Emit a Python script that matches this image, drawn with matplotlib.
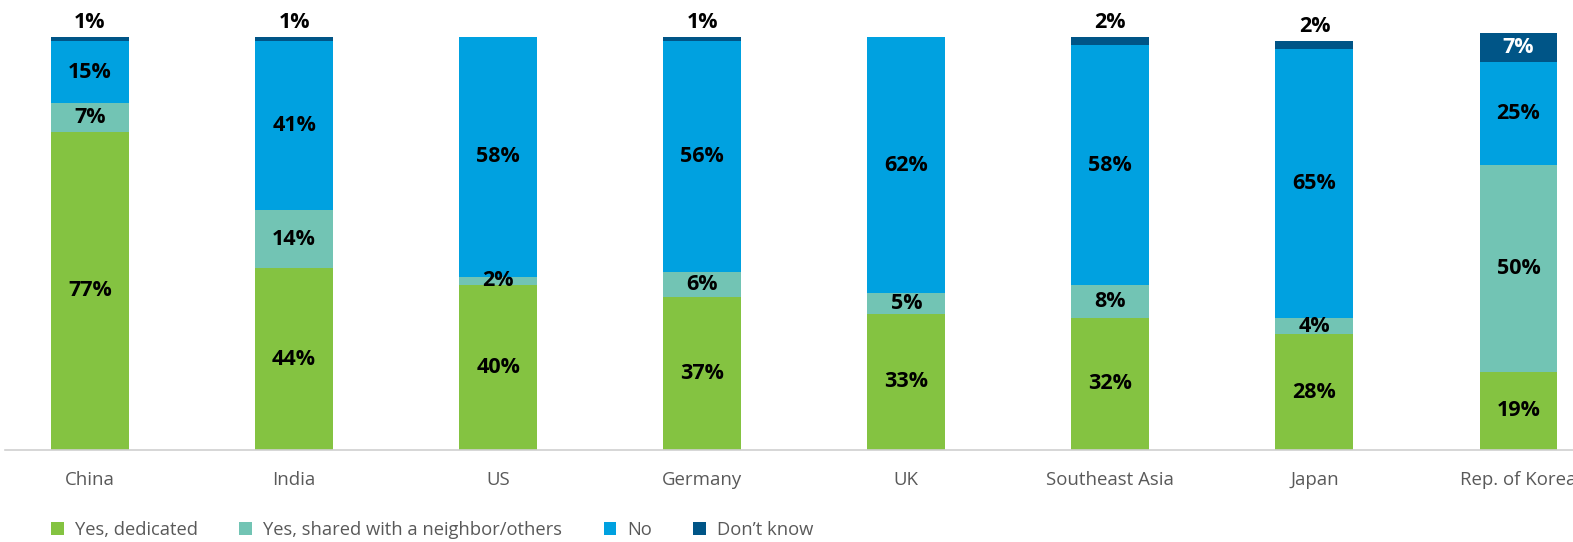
import numpy as np
import matplotlib
matplotlib.use("Agg")
import matplotlib.pyplot as plt
from matplotlib.patches import Patch

plt.rcParams['font.family'] = ['Open Sans', 'DejaVu Sans']

# survey shares per market, in percent
countries = ['China', 'India', 'US', 'Germany', 'UK', 'Southeast Asia', 'Japan', 'Rep. of Korea']
yes_dedicated = [77, 44, 40, 37, 33, 32, 28, 19]
yes_shared = [7, 14, 2, 6, 5, 8, 4, 50]
no = [15, 41, 58, 56, 62, 58, 65, 25]
dont_know = [1, 1, 0, 1, 0, 2, 2, 7]

series = [yes_dedicated, yes_shared, no, dont_know]
names = ['Yes, dedicated', 'Yes, shared with a neighbor/others', 'No', 'Don\u2019t know']
colors = ['#84C341', '#72C4B4', '#00A1E0', '#005587']

fig = plt.figure(figsize=(15.73, 5.42), dpi=100)
ax = fig.add_axes([5 / 1573, 92 / 542, 1 - 5 / 1573, 413 / 542])

x = np.arange(len(countries))
width = 0.382
bottom = np.zeros(len(countries))
lbl = dict(fontsize=15.5, fontweight='bold')

for vals, name, col in zip(series, names, colors):
    vals = np.array(vals, dtype=float)
    ax.bar(x, vals, width, bottom=bottom, color=col, label=name, clip_on=False)
    for i, v in enumerate(vals):
        if v <= 0:
            continue
        mid = bottom[i] + v / 2
        if col == colors[3]:
            # big enough to hold its own label, otherwise put it on top
            if v >= 5:
                ax.text(x[i], mid, f'{int(v)}%', ha='center', va='center',
                        color='white', **lbl)
            else:
                ax.annotate(f'{int(v)}%', (x[i], bottom[i] + v), xytext=(0, 3),
                            textcoords='offset points', ha='center', va='bottom',
                            color='black', annotation_clip=False, **lbl)
        else:
            ax.text(x[i], mid, f'{int(v)}%', ha='center', va='center',
                    color='black', **lbl)
    bottom += vals

ax.set_xlim(-0.4165, 7.267)
ax.set_ylim(0, 100)
ax.set_xticks(x)
ax.set_xticklabels(countries, fontsize=13.4, color='#595959')
ax.tick_params(axis='x', length=0, pad=15)
ax.set_yticks([])
for side in ['left', 'right', 'top']:
    ax.spines[side].set_visible(False)
ax.spines['bottom'].set_color('#d0d0d0')
ax.spines['bottom'].set_linewidth(1.2)

handles = [Patch(facecolor=c, edgecolor='none') for c in colors]
fig.legend(handles, names, loc='center left', bbox_to_anchor=(44 / 1573, 12 / 542),
           ncol=4, frameon=False, fontsize=13.2, labelcolor='#595959',
           handlelength=0.7, handleheight=0.7, handletextpad=0.6,
           columnspacing=2.25, borderaxespad=0)

fig.savefig('out.png', dpi=100)
